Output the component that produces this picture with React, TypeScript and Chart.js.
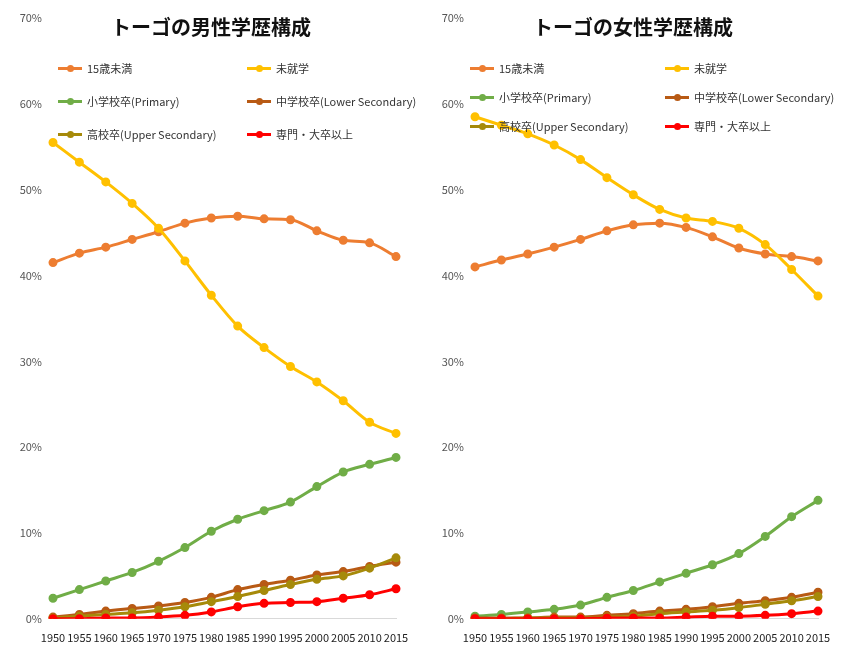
import { useEffect, useRef } from "react";
import { Chart, registerables } from "chart.js";

Chart.register(...registerables);

const YEARS = ["1950", "1955", "1960", "1965", "1970", "1975", "1980", "1985", "1990", "1995", "2000", "2005", "2010", "2015"];
const NAMES = ["15歳未満", "未就学", "小学校卒(Primary)", "中学校卒(Lower Secondary)", "高校卒(Upper Secondary)", "専門・大卒以上"];
const COLORS = ["#ED7D31", "#FFC000", "#70AD47", "#B85A14", "#A68A0A", "#FF0000"];

const MALE_UNDER15 = [41.5, 42.6, 43.3, 44.2, 45.1, 46.1, 46.7, 46.9, 46.6, 46.5, 45.2, 44.1, 43.8, 42.2];
const MALE_NONE = [55.5, 53.2, 50.9, 48.4, 45.5, 41.7, 37.7, 34.1, 31.6, 29.4, 27.6, 25.4, 22.9, 21.6];
const MALE_PRIMARY = [2.4, 3.4, 4.4, 5.4, 6.7, 8.3, 10.2, 11.6, 12.6, 13.6, 15.4, 17.1, 18.0, 18.8];
const MALE_LOWER = [0.2, 0.5, 0.9, 1.2, 1.5, 1.9, 2.5, 3.4, 4.0, 4.5, 5.1, 5.5, 6.1, 6.6];
const MALE_UPPER = [0.1, 0.3, 0.5, 0.7, 1.0, 1.4, 2.0, 2.6, 3.3, 4.0, 4.6, 5.0, 5.9, 7.1];
const MALE_TERTIARY = [0.0, 0.0, 0.1, 0.1, 0.2, 0.4, 0.8, 1.4, 1.8, 1.9, 2.0, 2.4, 2.8, 3.5];

const FEMALE_UNDER15 = [41.0, 41.8, 42.5, 43.3, 44.2, 45.2, 45.9, 46.1, 45.6, 44.5, 43.2, 42.5, 42.2, 41.7];
const FEMALE_NONE = [58.5, 57.5, 56.5, 55.2, 53.5, 51.4, 49.4, 47.7, 46.7, 46.3, 45.5, 43.6, 40.7, 37.6];
const FEMALE_PRIMARY = [0.3, 0.5, 0.8, 1.1, 1.6, 2.5, 3.3, 4.3, 5.3, 6.3, 7.6, 9.6, 11.9, 13.8];
const FEMALE_LOWER = [0.1, 0.1, 0.1, 0.2, 0.2, 0.4, 0.6, 0.9, 1.1, 1.4, 1.8, 2.1, 2.5, 3.1];
const FEMALE_UPPER = [0.0, 0.0, 0.1, 0.1, 0.1, 0.2, 0.3, 0.6, 0.8, 1.0, 1.3, 1.7, 2.1, 2.6];
const FEMALE_TERTIARY = [0.0, 0.0, 0.0, 0.0, 0.0, 0.1, 0.1, 0.1, 0.2, 0.3, 0.3, 0.4, 0.6, 0.9];

const FONT = "'Noto Sans CJK JP', 'Noto Sans', sans-serif";

function LineChart({ series }: { series: number[][] }) {
  const canvasRef = useRef<HTMLCanvasElement>(null);
  useEffect(() => {
    if (!canvasRef.current) return;
    const chart = new Chart(canvasRef.current, {
      type: "line",
      data: {
        labels: YEARS,
        datasets: series.map((d, i) => ({
          label: NAMES[i],
          data: d,
          borderColor: COLORS[i],
          backgroundColor: COLORS[i],
          borderWidth: 3,
          pointRadius: 3,
          cubicInterpolationMode: "monotone" as const,
        })).reverse(),
      },
      options: {
        animation: false,
        responsive: false,
        layout: { padding: { top: 18, right: 26, left: 0, bottom: 0 } },
        plugins: { legend: { display: false }, tooltip: { enabled: false } },
        scales: {
          x: {
            offset: false,
            grid: { display: false },
            border: { color: "#d9d9d9" },
            ticks: { color: "#222", font: { family: FONT, size: 11 }, maxRotation: 0, autoSkip: false, padding: 4 },
          },
          y: {
            min: 0,
            max: 70,
            grid: { display: false },
            border: { display: false },
            afterFit: (s: any) => { s.width = 53; },
            ticks: { stepSize: 10, color: "#555", font: { family: FONT, size: 11 }, callback: (v: any) => v + "%" },
          },
        },
      },
    });
    return () => chart.destroy();
  }, [series]);
  return <canvas ref={canvasRef} width={422} height={648} style={{ display: "block" }} />;
}

function Panel({ title, series, cols, rows }: { title: string; series: number[][]; cols: number[]; rows: number[] }) {
  return (
    <div style={{ position: "relative", width: 422, height: 648 }}>
      <LineChart series={series} />
      <div style={{ position: "absolute", top: 12, left: 0, width: 422, textAlign: "center", fontFamily: FONT, fontWeight: 700, fontSize: 20, color: "#111" }}>{title}</div>
      {NAMES.map((n, i) => {
        const x = cols[i % 2];
        const y = rows[Math.floor(i / 2)];
        return (
          <div key={n} style={{ position: "absolute", left: x, top: y - 8, display: "flex", alignItems: "center", fontFamily: FONT, fontSize: 11, color: "#333", whiteSpace: "nowrap" }}>
            <span style={{ position: "relative", width: 24, height: 16, marginRight: 5 }}>
              <span style={{ position: "absolute", left: 0, top: 6.5, width: 24, height: 3, background: COLORS[i] }} />
              <span style={{ position: "absolute", left: 8.5, top: 4.5, width: 7, height: 7, borderRadius: 4, background: COLORS[i] }} />
            </span>
            {n}
          </div>
        );
      })}
    </div>
  );
}

export default function App() {
  useEffect(() => { document.body.style.margin = "0"; }, []);
  return (
    <div style={{ display: "flex", width: 845, height: 648, background: "#fff" }}>
      <Panel title="トーゴの男性学歴構成" cols={[58, 247]} rows={[68, 101, 134]}
        series={[MALE_UNDER15, MALE_NONE, MALE_PRIMARY, MALE_LOWER, MALE_UPPER, MALE_TERTIARY]} />
      <Panel title="トーゴの女性学歴構成" cols={[48, 243]} rows={[68, 97, 126]}
        series={[FEMALE_UNDER15, FEMALE_NONE, FEMALE_PRIMARY, FEMALE_LOWER, FEMALE_UPPER, FEMALE_TERTIARY]} />
    </div>
  );
}
